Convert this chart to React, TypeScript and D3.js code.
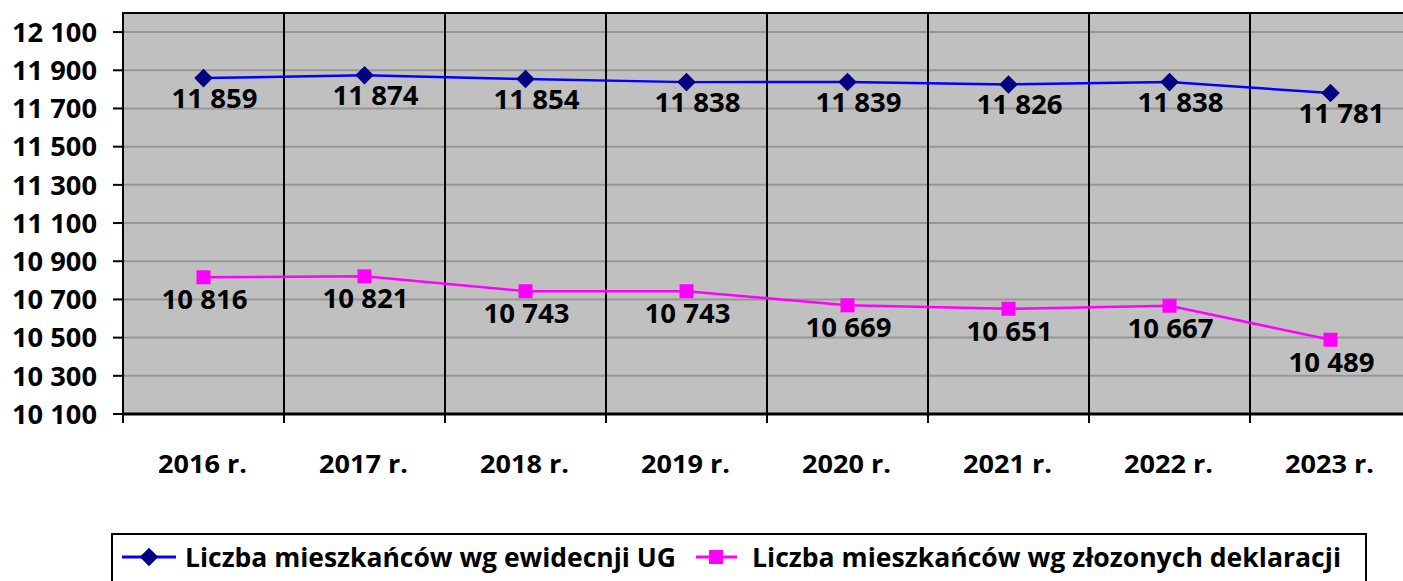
import React from "react";
import * as d3 from "d3";

const years = ["2016 r.", "2017 r.", "2018 r.", "2019 r.", "2020 r.", "2021 r.", "2022 r.", "2023 r."];
const ewidencja = [11859, 11874, 11854, 11838, 11839, 11826, 11838, 11781];
const deklaracje = [10816, 10821, 10743, 10743, 10669, 10651, 10667, 10489];
const yTicks = [10100, 10300, 10500, 10700, 10900, 11100, 11300, 11500, 11700, 11900, 12100];
const seriesNames = ["Liczba mieszkańców wg ewidecnji UG", "Liczba mieszkańców wg złozonych deklaracji"];

const width = 1403;
const height = 581;
const margin = { top: 13, right: -8, bottom: 167, left: 123 };
const font = "'Open Sans', Lato, sans-serif";

const fmt = (v: number) => d3.format(",")(v).replace(",", " ");

export default function App() {
  const x = d3
    .scaleBand()
    .domain(years)
    .range([margin.left, width - margin.right]);
  const y = d3
    .scaleLinear()
    .domain([10100, 12200])
    .range([height - margin.bottom, margin.top]);

  const cx = (i: number) => (x(years[i]) as number) + x.bandwidth() / 2;
  const line = d3
    .line<number>()
    .x((d, i) => cx(i))
    .y(d => y(d));

  const top = margin.top;
  const bottom = height - margin.bottom;
  const left = margin.left;
  const right = width - margin.right;
  const diamond = d3.symbol(d3.symbolDiamond2, 220)() || "";

  return (
    <svg width={width} height={height} style={{ position: "absolute", left: 0, top: 0 }}>
      <rect x={0} y={0} width={width} height={height} fill="#fff" />
      <rect x={left} y={top} width={right - left} height={bottom - top} fill="#c0c0c0" />
      {yTicks.slice(1).map(t => (
        <line key={t} x1={left} x2={right} y1={y(t)} y2={y(t)} stroke="#969696" strokeWidth={2} />
      ))}
      {years.slice(1).map(c => (
        <line key={c} x1={x(c)} x2={x(c)} y1={top} y2={bottom + 9} stroke="#000" strokeWidth={2} />
      ))}
      <line x1={left} x2={left} y1={bottom + 9} y2={bottom} stroke="#000" strokeWidth={2} />
      <rect x={left} y={top} width={right - left} height={bottom - top} fill="none" stroke="#000" strokeWidth={2} />
      <line x1={left - 1} x2={right} y1={bottom} y2={bottom} stroke="#000" strokeWidth={3} />
      {yTicks.map(t => (
        <g key={t}>
          <line x1={left - 10} x2={left} y1={y(t)} y2={y(t)} stroke="#000" strokeWidth={2} />
          <text
            x={97}
            y={y(t)}
            dy="0.36em"
            textAnchor="end"
            fontFamily={font}
            fontWeight="bold"
            fontSize={27}
            textLength={85}
            lengthAdjust="spacingAndGlyphs"
          >
            {fmt(t)}
          </text>
        </g>
      ))}
      {years.map((c, i) => (
        <text key={c} x={cx(i) - 1} y={473} textAnchor="middle" fontFamily={font} fontWeight="bold" fontSize={25}
          textLength={89} lengthAdjust="spacingAndGlyphs">
          {c}
        </text>
      ))}

      <path d={line(ewidencja) || ""} fill="none" stroke="#0000ff" strokeWidth={2.5} />
      <path d={line(deklaracje) || ""} fill="none" stroke="#ff00ff" strokeWidth={2.5} />
      {ewidencja.map((v, i) => (
        <g key={"e" + i}>
          <path d={diamond} transform={`translate(${cx(i)},${y(v)})`} fill="#000080" />
          <text x={cx(i) + 11} y={y(v) + 30} textAnchor="middle" fontFamily={font} fontWeight="bold" fontSize={27}
            textLength={86} lengthAdjust="spacingAndGlyphs">
            {fmt(v)}
          </text>
        </g>
      ))}
      {deklaracje.map((v, i) => (
        <g key={"d" + i}>
          <rect x={cx(i) - 7} y={y(v) - 7} width={14} height={14} fill="#ff00ff" />
          <text x={cx(i) + 1} y={y(v) + 32} textAnchor="middle" fontFamily={font} fontWeight="bold" fontSize={27}
            textLength={86} lengthAdjust="spacingAndGlyphs">
            {fmt(v)}
          </text>
        </g>
      ))}

      <rect x={112} y={534} width={1254} height={70} fill="#fff" stroke="#000" strokeWidth={2} />
      <line x1={122} x2={176} y1={557} y2={557} stroke="#0000ff" strokeWidth={3} />
      <path d={diamond} transform="translate(149,557)" fill="#000080" />
      <text x={185} y={567} fontFamily={font} fontWeight="bold" fontSize={27}
        textLength={491} lengthAdjust="spacingAndGlyphs">
        {seriesNames[0]}
      </text>
      <line x1={696} x2={737} y1={557} y2={557} stroke="#ff00ff" strokeWidth={3} />
      <rect x={709} y={550} width={14} height={14} fill="#ff00ff" />
      <text x={752} y={567} fontFamily={font} fontWeight="bold" fontSize={27}
        textLength={589} lengthAdjust="spacingAndGlyphs">
        {seriesNames[1]}
      </text>
    </svg>
  );
}
